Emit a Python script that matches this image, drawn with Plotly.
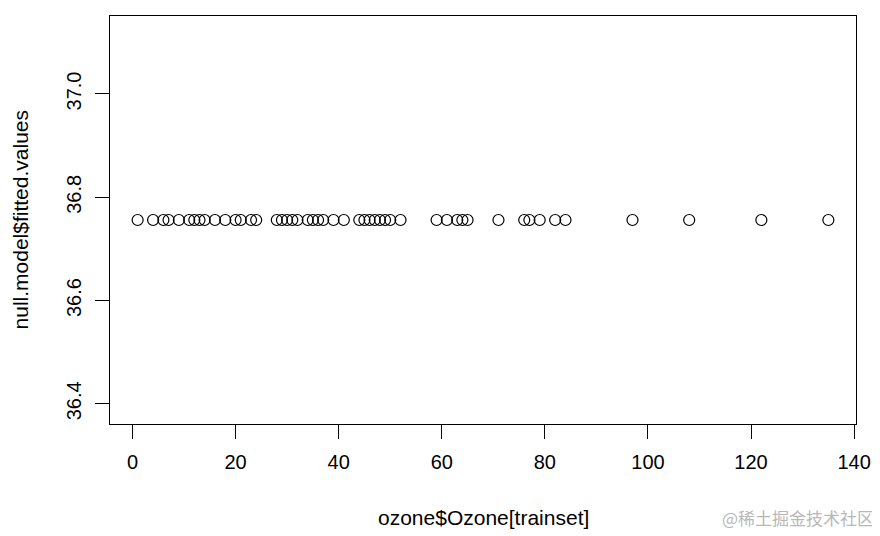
"""Null model fitted values vs observed ozone (R base-graphics look)."""

import plotly.graph_objects as go

ozone_trainset = [
    1, 4, 6, 7, 9, 11, 12, 13, 14, 16, 18, 20, 21, 23, 24,
    28, 29, 30, 31, 32, 34, 35, 36, 37, 39, 41, 44, 45, 46, 47,
    48, 49, 50, 52, 59, 61, 63, 64, 65, 71, 76, 77, 79, 82, 84,
    97, 108, 122, 135,
]
# a null model predicts the mean for every row
fitted_value = 36.756
null_fitted = [fitted_value] * len(ozone_trainset)

x_ticks = [0, 20, 40, 60, 80, 100, 120, 140]
y_ticks = [36.4, 36.6, 36.8, 37.0]

FONT = "Liberation Sans, Arial, sans-serif"

fig = go.Figure(go.Scatter(
    x=ozone_trainset, y=null_fitted,
    mode="markers",
    marker=dict(symbol="circle-open", size=11, color="black", line=dict(width=1.2)),
    showlegend=False,
))

axis_common = dict(
    showgrid=False, zeroline=False, automargin=False,
    showline=True, linecolor="black", linewidth=1, mirror=True,
    ticks="outside", ticklen=14, tickcolor="black", tickwidth=1,
    tickfont=dict(family=FONT, size=20, color="black"),
)

# page body adds an 8px offset, so the figure is 8px smaller each way
fig.update_layout(
    width=872, height=528,
    paper_bgcolor="white", plot_bgcolor="white",
    margin=dict(l=102, r=24, t=8, b=112),
    font=dict(family=FONT, color="black"),
    xaxis=dict(range=[-4.36, 140.36], tickvals=x_ticks, ticklabelstandoff=6, **axis_common),
    yaxis=dict(
        range=[36.361, 37.151], tickvals=y_ticks, tickformat=".1f", tickangle=-90,
        ticklabelstandoff=6, **axis_common,
    ),
)

# axis titles placed like R's mtext lines
fig.add_annotation(
    text="ozone$Ozone[trainset]", xref="paper", yref="paper", x=0.5, y=-0.228,
    xanchor="center", yanchor="middle", showarrow=False,
    font=dict(family=FONT, size=21, color="black"),
)
fig.add_annotation(
    text="null.model$fitted.values", xref="paper", yref="paper", x=-0.12, y=0.5,
    xanchor="center", yanchor="middle", textangle=-90, showarrow=False,
    font=dict(family=FONT, size=21, color="black"),
)
fig.add_annotation(
    text="@稀土掘金技术社区", xref="paper", yref="paper", x=1.027, y=-0.228,
    xanchor="right", yanchor="middle", showarrow=False,
    font=dict(family="Noto Sans CJK SC", size=17, color="#b8b8b8"),
)

fig.write_html("out.html")
